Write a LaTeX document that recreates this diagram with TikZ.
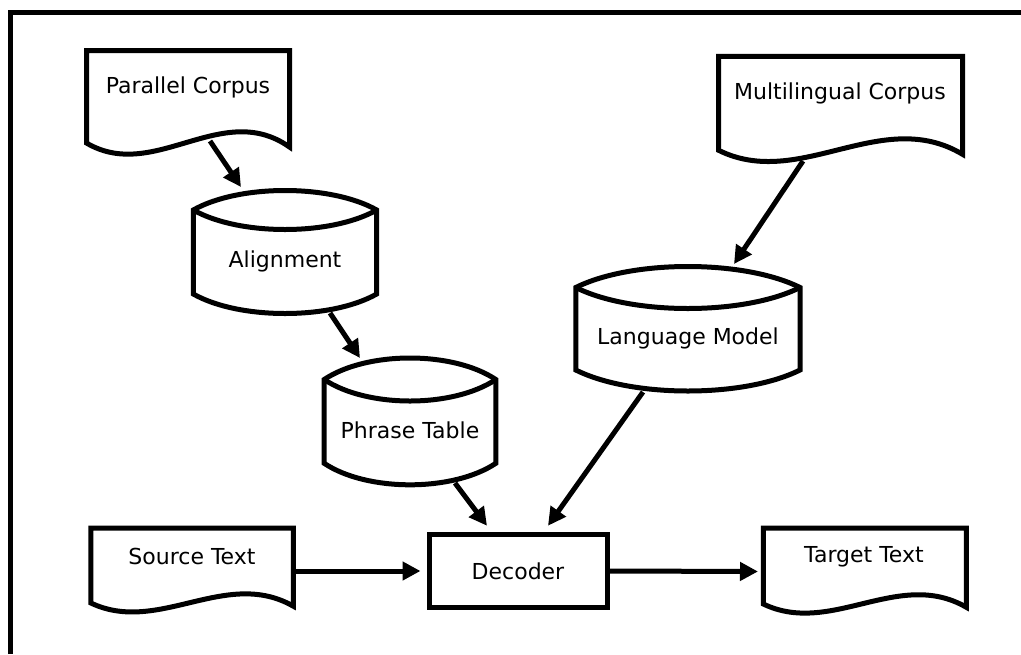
\documentclass[tikz,border=0pt]{standalone}
\usepackage{fontspec}
\setmainfont{DejaVu Sans}
\usetikzlibrary{arrows.meta,calc}

% document symbol: left, top, right, body height
\newcommand\docframe[4]{%
  \draw[outline] (#1,#2) -- (#3,#2) -- (#3,{#2+0.97*#4})
    .. controls ({#1+2*(#3-#1)/3},{#2+0.49*#4}) and ({#1+(#3-#1)/3},{#2+1.33*#4})
    .. (#1,{#2+0.93*#4}) -- cycle;}

% storage cylinder: left, right, upper corner y, lower corner y, arc sag
\newcommand\cylframe[5]{%
  \draw[outline] (#1,#3)
    .. controls ({#1+0.25*(#2-#1)},{#3-#5/0.75}) and ({#1+0.75*(#2-#1)},{#3-#5/0.75}) .. (#2,#3)
    -- (#2,#4)
    .. controls ({#1+0.75*(#2-#1)},{#4+#5/0.75}) and ({#1+0.25*(#2-#1)},{#4+#5/0.75}) .. (#1,#4)
    -- cycle;
  \draw[outline] (#1,#3)
    .. controls ({#1+0.25*(#2-#1)},{#3+#5/0.75}) and ({#1+0.75*(#2-#1)},{#3+#5/0.75}) .. (#2,#3);}

\begin{document}
\begin{tikzpicture}[x=1pt,y=-1pt,
  outline/.style={line width=5pt, line join=miter},
  caption/.style={font=\fontsize{22}{26}\selectfont, inner sep=0pt},
  procbox/.style={caption, draw, line width=5pt, minimum width=178pt, minimum height=73.5pt},
  flow/.style={line width=5pt, -{Triangle[length=18pt,width=18pt]}},
  frameline/.style={line width=5pt, line join=miter}]
\useasboundingbox (0,0) rectangle (1021,654);

% outer frame (top and left edges)
\draw[frameline] (10.8,654) -- (10.8,12.5) -- (1021,12.5);

% documents
\docframe{86.5}{50.5}{289.5}{99.5}
\node[caption] (pc) at (188,87) {Parallel Corpus};
\docframe{718.5}{56.3}{962.5}{101}
\node[caption] (mc) at (840,93) {Multilingual Corpus};
\docframe{90.8}{528}{293.3}{80.6}
\node[caption] (src) at (192,556) {Source Text};
\docframe{763.3}{528}{966.3}{81.7}
\node[caption] (tgt) at (864,557) {Target Text};

% stores
\cylframe{193.3}{376.7}{210}{294}{19.5}
\node[caption] (align) at (285,261) {Alignment};
\cylframe{324.2}{495.8}{379.5}{463.3}{21.5}
\node[caption] (pt) at (410,430) {Phrase Table};
\cylframe{575.8}{800}{287.5}{370}{21}
\node[caption] (lm) at (688,338) {Language Model};

% decoder
\node[procbox] (dec) at (518,571) {Decoder};

% connector end points
\coordinate (pc-out) at (210,141);
\coordinate (align-in) at (241,187);
\coordinate (align-out) at (330,313);
\coordinate (pt-in) at (360,358);
\coordinate (pt-out) at (455,483);
\coordinate (mc-out) at (803,161);
\coordinate (lm-in) at (734,264);
\coordinate (lm-out) at (643,392);
\coordinate (src-out) at (293.3,571);
\coordinate (tgt-in) at (758,571.5);

\draw[flow] (pc-out) -- (align-in);
\draw[flow] (align-out) -- (pt-in);
\draw[flow] (pt-out) -- ($(dec.north)+(-31,-6)$);
\draw[flow] (mc-out) -- (lm-in);
\draw[flow] (lm-out) -- ($(dec.north)+(30,-6)$);
\draw[flow] (src-out) -- ($(dec.west)+(-6,0)$);
\draw[flow] (dec.east) -- (tgt-in);
\end{tikzpicture}
\end{document}
